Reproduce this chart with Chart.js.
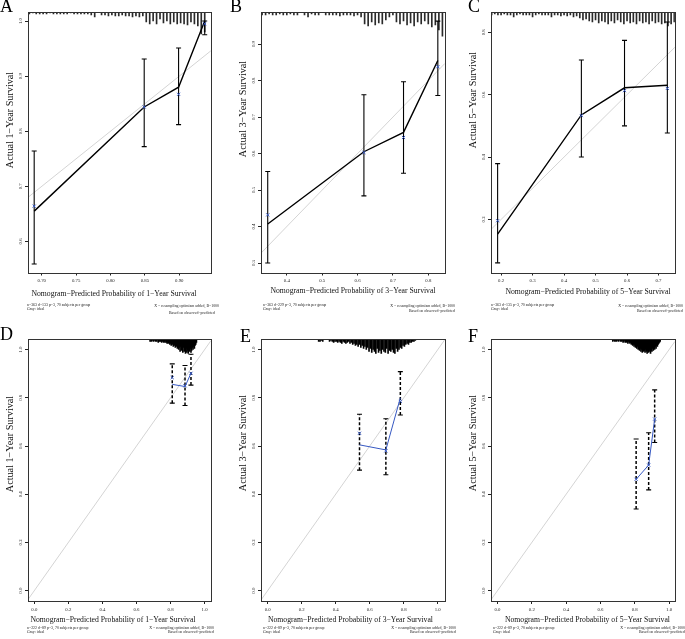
<!DOCTYPE html>
<html lang="en">
<head>
<meta charset="utf-8">
<title>Nomogram calibration curves</title>
<script src="https://cdn.jsdelivr.net/npm/chart.js@4"></script>
<style>
    body { margin: 0; background: #fff; }
    #page { position: relative; width: 685px; height: 639px; overflow: hidden; font-family: "Liberation Serif", "DejaVu Serif", serif; color: #000; }
    #page canvas { position: absolute; }
    .tag, .note, .xt, .yt { filter: grayscale(1); }
    .tag { position: absolute; font-size: 18px; line-height: 18px; }
    .note { position: absolute; font-size: 3.9px; line-height: 4.6px; white-space: nowrap; color: #222; }
    .right { text-align: right; }
    .xt, .yt { position: absolute; white-space: nowrap; color: #111; line-height: 1; }
    .xt { font-size: 7.7px; transform: translate(-50%, -50%); }
    .yt { font-size: 10.2px; transform: translate(-50%, -50%) rotate(-90deg); }
</style>
</head>
<body>
<div id="page">
    <div class="tag" style="left:0px;top:-3px">A</div>
    <div class="tag" style="left:230px;top:-3px">B</div>
    <div class="tag" style="left:468px;top:-3px">C</div>
    <div class="tag" style="left:0px;top:325px">D</div>
    <div class="tag" style="left:240px;top:327px">E</div>
    <div class="tag" style="left:468px;top:327px">F</div>

    <div class="yt" style="left:10px;top:120px">Actual 1−Year Survival</div>
    <div class="yt" style="left:243px;top:109px">Actual 3−Year Survival</div>
    <div class="yt" style="left:473px;top:100px">Actual 5−Year Survival</div>
    <div class="yt" style="left:9.5px;top:444px">Actual 1−Year Survival</div>
    <div class="yt" style="left:243px;top:443px">Actual 3−Year Survival</div>
    <div class="yt" style="left:473px;top:443px">Actual 5−Year Survival</div>

    <div class="xt" style="left:114px;top:294px">Nomogram−Predicted Probability of 1−Year Survival</div>
    <div class="xt" style="left:353px;top:291px">Nomogram−Predicted Probability of 3−Year Survival</div>
    <div class="xt" style="left:588px;top:292px">Nomogram−Predicted Probability of 5−Year Survival</div>
    <div class="xt" style="left:113px;top:620px">Nomogram−Predicted Probability of 1−Year Survival</div>
    <div class="xt" style="left:350.5px;top:620px">Nomogram−Predicted Probability of 3−Year Survival</div>
    <div class="xt" style="left:587.5px;top:619.5px">Nomogram−Predicted Probability of 5−Year Survival</div>

    <div class="note" style="left:27px;top:302.7px">n=363 d=133 p=3, 70 subjects per group<br>Gray: ideal</div>
    <div class="note right" style="right:466px;top:303.7px">X − resampling optimism added, B=1000</div>
    <div class="note right" style="right:470px;top:310.7px">Based on observed−predicted</div>
    <div class="note" style="left:263px;top:302.7px">n=363 d=229 p=3, 70 subjects per group<br>Gray: ideal</div>
    <div class="note right" style="right:230px;top:303.7px">X − resampling optimism added, B=1000</div>
    <div class="note right" style="right:230px;top:308.7px">Based on observed−predicted</div>
    <div class="note" style="left:491px;top:302.7px">n=363 d=135 p=3, 70 subjects per group<br>Gray: ideal</div>
    <div class="note right" style="right:2px;top:303.7px">X − resampling optimism added, B=1000</div>
    <div class="note right" style="right:2px;top:308.7px">Based on observed−predicted</div>

    <div class="note" style="left:27px;top:625.7px">n=222 d=89 p=3, 70 subjects per group<br>Gray: ideal</div>
    <div class="note right" style="right:471px;top:625.7px">X − resampling optimism added, B=1000<br>Based on observed−predicted</div>
    <div class="note" style="left:263px;top:625.7px">n=222 d=89 p=3, 70 subjects per group<br>Gray: ideal</div>
    <div class="note right" style="right:229px;top:625.7px">X − resampling optimism added, B=1000<br>Based on observed−predicted</div>
    <div class="note" style="left:493px;top:625.7px">n=222 d=89 p=3, 70 subjects per group<br>Gray: ideal</div>
    <div class="note right" style="right:0px;top:625.7px">X − resampling optimism added, B=1000<br>Based on observed−predicted</div>
</div>

<script>
    // ---- A: 1-year, training cohort
    const xTicksA = [0.70, 0.75, 0.80, 0.85, 0.90];
    const yTicksA = [0.6, 0.7, 0.8, 0.9, 1.0];
    const predA = [0.689, 0.849, 0.899, 0.937];
    const obsA  = [0.655, 0.844, 0.880, 1.000];
    const lowA  = [0.559, 0.772, 0.812, 0.975];
    const highA = [0.764, 0.931, 0.951, 1.000];
    const corrA = [0.664, 0.844, 0.867, 0.995];
    const rugA = [2,1,2,2,2,2,1,2,2,2,2,2,1,2,2,2,2,2,3,5,0,3,3,4,3,4,4,3,4,4,5,4,5,4,
                  10,12,9,12,7,11,9,12,10,12,11,12,13,10,12,14,22,20];

    // ---- B: 3-year, training cohort
    const xTicksB = [0.4, 0.5, 0.6, 0.7, 0.8];
    const yTicksB = [0.3, 0.4, 0.5, 0.6, 0.7, 0.8, 0.9];
    const predB = [0.346, 0.618, 0.730, 0.827];
    const obsB  = [0.407, 0.605, 0.658, 0.855];
    const lowB  = [0.300, 0.484, 0.546, 0.759];
    const highB = [0.551, 0.761, 0.797, 0.963];
    const corrB = [0.432, 0.603, 0.644, 0.838];
    const rugB = [3,3,2,3,3,2,3,3,2,3,3,0,3,5,2,3,3,0,3,3,3,3,4,3,3,3,4,3,5,
                  12,14,10,13,11,12,8,5,3,10,12,9,13,11,14,10,12,9,12,15,13,18,24];

    // ---- C: 5-year, training cohort
    const xTicksC = [0.2, 0.3, 0.4, 0.5, 0.6, 0.7];
    const yTicksC = [0.2, 0.4, 0.6, 0.8];
    const predC = [0.189, 0.455, 0.592, 0.728];
    const obsC  = [0.153, 0.535, 0.622, 0.630];
    const lowC  = [0.061, 0.400, 0.500, 0.477];
    const highC = [0.379, 0.711, 0.774, 0.833];
    const corrC = [0.196, 0.533, 0.613, 0.620];
    const rugC = [3,2,3,3,2,3,3,5,3,2,3,3,3,5,3,2,3,3,3,5,3,3,4,3,4,3,5,4,
                  6,8,7,9,10,8,11,9,10,12,9,11,8,10,12,9,11,10,12,9,11,10,12,9,11,10,12,11,14,12,10];

    // ---- D: 1-year, validation cohort
    const xTicksD = [0.0, 0.2, 0.4, 0.6, 0.8, 1.0];
    const yTicksD = [0.0, 0.2, 0.4, 0.6, 0.8, 1.0];
    const predD = [0.810, 0.885, 0.920];
    const obsD  = [0.856, 0.847, 0.902];
    const lowD  = [0.778, 0.768, 0.853];
    const highD = [0.941, 0.934, 0.981];
    const corrD = [0.884, 0.850, 0.902];
    const rugD = [2,0,2,1,0,2,1,0,2,1,2,0,3,1,2,2,0,3,2,1,3,2,3,1,3,4,2,4,3,5,4,6,3,5,7,4,6,8,5,7,
                  9,6,10,8,12,7,11,9,13,8,12,10,14,9,13,11,14,10,12,9,13,11,8,10,7,9,6,5,3];

    // ---- E: 3-year, validation cohort
    const xTicksE = [0.0, 0.2, 0.4, 0.6, 0.8, 1.0];
    const yTicksE = [0.0, 0.2, 0.4, 0.6, 0.8, 1.0];
    const predE = [0.540, 0.695, 0.780];
    const obsE  = [0.605, 0.584, 0.800];
    const lowE  = [0.500, 0.481, 0.729];
    const highE = [0.732, 0.713, 0.909];
    const corrE = [0.653, 0.580, 0.785];
    const rugE = [2,2,1,2,0,0,0,0,2,1,2,3,2,2,3,2,3,4,2,3,4,3,2,4,3,5,4,6,5,7,5,8,6,9,7,10,8,12,
                  9,13,10,12,14,9,13,11,14,10,12,13,9,14,11,12,10,13,14,9,12,10,8,9,6,7,5,4,5,3,3,2,2,1];

    // ---- F: 5-year, validation cohort
    const xTicksF = [0.0, 0.2, 0.4, 0.6, 0.8, 1.0];
    const yTicksF = [0.0, 0.2, 0.4, 0.6, 0.8, 1.0];
    const predF = [0.808, 0.881, 0.916];
    const obsF  = [0.462, 0.521, 0.712];
    const lowF  = [0.339, 0.418, 0.615];
    const highF = [0.629, 0.655, 0.833];
    const corrF = [0.462, 0.521, 0.712];
    const rugF = [2,1,0,2,1,2,0,1,2,1,0,2,1,2,1,3,2,1,3,2,3,2,4,2,3,4,3,5,4,6,5,7,5,8,6,9,7,10,8,11,
                  9,12,10,13,9,12,11,13,10,12,14,11,13,10,12,14,11,12,9,11,8,10,7,9,6,7,5,4,3,2];

    const SERIF = '"Liberation Serif", "DejaVu Serif", serif';
    const BLUE = '#3658c2';

    const panels = [
        {left: 0,   top: 0,   plotW: 186, padTop: 12,   axisH: 27.5, xRange: [0.680, 0.946], yRange: [0.5436, 1.0164],
         xTicks: xTicksA, yTicks: yTicksA, xDec: 2, yDec: 1, pred: predA, obs: obsA, low: lowA, high: highA, corr: corrA,
         rug: rugA, rugStart: 0.682, rugStep: 0.005, valid: false},
        {left: 233, top: 0,   plotW: 187, padTop: 12,   axisH: 27.5, xRange: [0.327, 0.847], yRange: [0.274, 0.988],
         xTicks: xTicksB, yTicks: yTicksB, xDec: 1, yDec: 1, pred: predB, obs: obsB, low: lowB, high: highB, corr: corrB,
         rug: rugB, rugStart: 0.33, rugStep: 0.01, valid: false},
        {left: 463, top: 0,   plotW: 187, padTop: 12,   axisH: 27.5, xRange: [0.168, 0.752], yRange: [0.030, 0.865],
         xTicks: xTicksC, yTicks: yTicksC, xDec: 1, yDec: 1, pred: predC, obs: obsC, low: lowC, high: highC, corr: corrC,
         rug: rugC, rugStart: 0.17, rugStep: 0.01, valid: false},
        {left: 0,   top: 327, plotW: 186, padTop: 12.3, axisH: 26, xRange: [-0.037, 1.037], yRange: [-0.043, 1.043],
         xTicks: xTicksD, yTicks: yTicksD, xDec: 1, yDec: 1, pred: predD, obs: obsD, low: lowD, high: highD, corr: corrD,
         rug: rugD, rugStart: 0.680, rugStep: 0.004, valid: true},
        {left: 233, top: 327, plotW: 187, padTop: 12.3, axisH: 26, xRange: [-0.039, 1.042], yRange: [-0.043, 1.043],
         xTicks: xTicksE, yTicks: yTicksE, xDec: 1, yDec: 1, pred: predE, obs: obsE, low: lowE, high: highE, corr: corrE,
         rug: rugE, rugStart: 0.300, rugStep: 0.008, valid: true},
        {left: 463, top: 327, plotW: 187, padTop: 12.3, axisH: 26, xRange: [-0.038, 1.034], yRange: [-0.043, 1.043],
         xTicks: xTicksF, yTicks: yTicksF, xDec: 1, yDec: 1, pred: predF, obs: obsF, low: lowF, high: highF, corr: corrF,
         rug: rugF, rugStart: 0.672, rugStep: 0.004, valid: true}
    ];

    // full box round the plot region, like R's box()
    const frame = {
        id: 'frame',
        afterDatasetsDraw(chart) {
            const {ctx, chartArea: a} = chart;
            ctx.save();
            ctx.strokeStyle = '#333';
            ctx.lineWidth = 1;
            ctx.strokeRect(Math.round(a.left) + 0.5, Math.round(a.top) + 0.5,
                           Math.round(a.right - a.left), Math.round(a.bottom - a.top));
            ctx.restore();
        }
    };

    function buildPanel(p) {
        const cv = document.createElement('canvas');
        cv.width = 28 + p.plotW + 2;
        cv.height = 300;
        cv.style.left = p.left + 'px';
        cv.style.top = p.top + 'px';
        document.getElementById('page').appendChild(cv);

        const lineColor = p.valid ? BLUE : '#000';
        const datasets = [];

        // bias-corrected estimates (X)
        datasets.push({
            type: 'line', showLine: false,
            data: p.pred.map((x, i) => ({x: x, y: p.corr[i]})),
            pointStyle: 'crossRot', pointRadius: 2.2, pointBorderWidth: 1,
            pointBorderColor: BLUE, borderColor: BLUE
        });
        // apparent calibration
        datasets.push({
            type: 'line',
            data: p.pred.map((x, i) => ({x: x, y: p.obs[i]})),
            borderColor: lineColor, borderWidth: p.valid ? 1 : 1.4, pointRadius: 0
        });
        // 95% CI bars
        p.pred.forEach(function (x, i) {
            datasets.push({
                type: 'line',
                data: [{x: x, y: p.low[i]}, {x: x, y: p.high[i]}],
                borderColor: '#000', borderWidth: p.valid ? 1.5 : 1.1,
                borderDash: p.valid ? [3, 2] : [],
                pointStyle: 'line', pointRadius: 2.5, pointBorderWidth: 1.1,
                pointBorderColor: '#000'
            });
        });
        // ideal line
        datasets.push({
            type: 'line',
            data: [{x: p.xRange[0], y: p.xRange[0]}, {x: p.xRange[1], y: p.xRange[1]}],
            borderColor: '#d4d4d4', borderWidth: 1, pointRadius: 0
        });
        // distribution of predictions along the top
        datasets.push({
            type: 'bar', yAxisID: 'yRug',
            data: p.rug.map((n, i) => ({x: p.rugStart + i * p.rugStep, y: n})),
            backgroundColor: p.valid ? '#000' : '#2a2a2a', barThickness: 1
        });

        new Chart(cv, {
            type: 'line',
            data: {datasets: datasets},
            options: {
                responsive: false,
                animation: false,
                events: [],
                devicePixelRatio: 1,
                layout: {padding: {left: 0, top: p.padTop, right: 2, bottom: 0}},
                elements: {line: {tension: 0}},
                plugins: {legend: {display: false}, tooltip: {enabled: false}},
                scales: {
                    x: {
                        type: 'linear', offset: false, min: p.xRange[0], max: p.xRange[1],
                        afterBuildTicks: s => { s.ticks = p.xTicks.map(v => ({value: v})); },
                        afterFit: s => { s.height = p.axisH; },
                        grid: {offset: false, drawOnChartArea: false, tickLength: 3, color: '#222'},
                        border: {display: false},
                        ticks: {
                            font: {family: SERIF, size: 4.8}, color: '#222', padding: 2.5,
                            maxRotation: 0, autoSkip: false,
                            callback: v => v.toFixed(p.xDec)
                        }
                    },
                    y: {
                        type: 'linear', position: 'left', min: p.yRange[0], max: p.yRange[1],
                        afterBuildTicks: s => { s.ticks = p.yTicks.map(v => ({value: v})); },
                        afterFit: s => { s.width = 28; },
                        grid: {drawOnChartArea: false, tickLength: 3, color: '#222'},
                        border: {display: false},
                        ticks: {
                            font: {family: SERIF, size: 4.8}, color: '#222', padding: 1,
                            minRotation: 90, maxRotation: 90, crossAlign: 'center', autoSkip: false,
                            callback: v => v.toFixed(p.yDec)
                        }
                    },
                    yRug: {type: 'linear', axis: 'y', position: 'right', display: false,
                           reverse: true, min: 0, max: 260}
                }
            },
            plugins: [frame]
        });
    }

    panels.forEach(buildPanel);
</script>
</body>
</html>
